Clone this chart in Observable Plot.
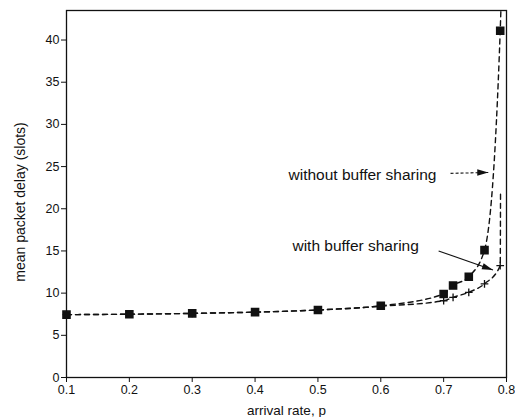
<!DOCTYPE html>
<html>
<head>
<meta charset="utf-8">
<script src="https://cdn.jsdelivr.net/npm/d3@7"></script>
<script src="https://cdn.jsdelivr.net/npm/@observablehq/plot@0.6"></script>
<style>
  html, body { margin: 0; padding: 0; background: #fff; }
  #chart svg { display: block; }
</style>
</head>
<body>
<div id="chart"></div>
<script>
// ---- data ----
const pWithout = [0.1, 0.2, 0.3, 0.4, 0.5, 0.6, 0.7, 0.715, 0.74, 0.765, 0.79];
const delayWithout = [7.45, 7.5, 7.6, 7.75, 8.0, 8.5, 9.9, 10.9, 11.95, 15.1, 41.1];
const pWith = [0.1, 0.2, 0.3, 0.4, 0.5, 0.6, 0.7, 0.715, 0.74, 0.765, 0.79];
const delayWith = [7.45, 7.5, 7.6, 7.75, 8.0, 8.45, 9.1, 9.5, 10.1, 11.1, 13.25];
// curve continuations (asymptotes) drawn without markers
const extWithout = {p: 0.7925, delay: 47};
const extWith = {p: 0.7905, delay: 22};

const xTicks = [0.1, 0.2, 0.3, 0.4, 0.5, 0.6, 0.7, 0.8];
const yTicks = [0, 5, 10, 15, 20, 25, 30, 35, 40];

const labels = [
  {text: "without buffer sharing", p: 0.4532, delay: 24.0, p0: 0.711, d0: 24.2, p1: 0.771, d1: 24.3},
  {text: "with buffer sharing", p: 0.4595, delay: 15.6, p0: 0.692, d0: 15.0, p1: 0.7785, d1: 12.75}
];

// ---- derived tables ----
const without = pWithout.map((p, i) => ({p, delay: delayWithout[i]}));
const withS = pWith.map((p, i) => ({p, delay: delayWith[i]}));
const withoutLine = [...without, extWithout];
const withLine = [...withS, extWith];

// filled arrowhead symbol, tip at origin, pointing along angle (screen coords)
function arrowHead(angle, len = 11, half = 3.2) {
  return {
    draw(ctx) {
      const c = Math.cos(angle), s = Math.sin(angle);
      const pt = (x, y) => [x * c - y * s, x * s + y * c];
      const a = pt(0, 0), b = pt(-len, -half), d = pt(-len, half);
      ctx.moveTo(a[0], a[1]);
      ctx.lineTo(b[0], b[1]);
      ctx.lineTo(d[0], d[1]);
      ctx.closePath();
    }
  };
}

const dash = "5,4";
const chart = Plot.plot({
  width: 515,
  height: 417,
  marginLeft: 66,
  marginRight: 9,
  marginTop: 10,
  marginBottom: 40,
  style: {fontFamily: "'Liberation Sans', Arial, Helvetica, sans-serif", fontSize: "12.5px", color: "#111", background: "#fff"},
  x: {domain: [0.1, 0.8], ticks: xTicks, tickFormat: d3.format(".1f"), label: null, tickSize: 5, tickPadding: 3},
  y: {domain: [0, 43.5], ticks: yTicks, label: null, tickSize: 5, tickPadding: 2},
  marks: [
    Plot.frame({stroke: "#111", strokeWidth: 1.3}),
    Plot.line(withLine, {x: "p", y: "delay", curve: "monotone-x", stroke: "#111", strokeWidth: 1.4, strokeDasharray: dash, clip: true}),
    Plot.line(withoutLine, {x: "p", y: "delay", curve: "monotone-x", stroke: "#111", strokeWidth: 1.4, strokeDasharray: dash, clip: true}),
    Plot.dot(withS, {x: "p", y: "delay", symbol: "plus", r: 2.6, stroke: "#111", strokeWidth: 1.3}),
    Plot.dot(without, {x: "p", y: "delay", symbol: "square", r: 4, fill: "#111", stroke: "#111"}),
    // annotations
    Plot.text(labels, {x: "p", y: "delay", text: "text", textAnchor: "start", fontSize: 15.5, fill: "#111"}),
    Plot.link(labels.slice(0, 1), {x1: "p0", y1: "d0", x2: "p1", y2: "d1", stroke: "#111", strokeWidth: 1.1, strokeDasharray: "3,2"}),
    Plot.link(labels.slice(1, 2), {x1: "p0", y1: "d0", x2: "p1", y2: "d1", stroke: "#111", strokeWidth: 1.1}),
    Plot.dot(labels.slice(0, 1), {x: "p1", y: "d1", symbol: arrowHead(0), r: 4, fill: "#111", stroke: "none"}),
    Plot.dot(labels.slice(1, 2), {x: "p1", y: "d1", symbol: arrowHead(Math.atan2(19, 54)), r: 4, fill: "#111", stroke: "none"}),
    // axis titles
    Plot.text(["mean packet delay (slots)"], {x: 0.1, y: 20.8, text: d => d, rotate: -90, dx: -46, fontSize: 14, fill: "#111"}),
    Plot.text(["arrival rate, p"], {x: 0.45, y: 0, text: d => d, dy: 33, fontSize: 13.5, fill: "#111"})
  ]
});
document.getElementById("chart").append(chart);
</script>
</body>
</html>
